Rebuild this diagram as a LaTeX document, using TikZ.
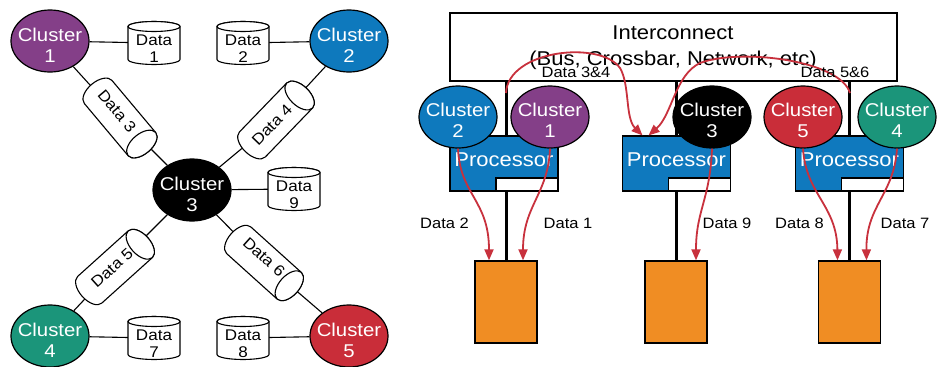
\documentclass[tikz,border=0pt]{standalone}
\usepackage{fontspec}
\setmainfont{Liberation Sans}[FakeStretch=1.1]
\usetikzlibrary{arrows.meta,shapes.geometric}
\definecolor{cpurple}{HTML}{843F88}
\definecolor{cblue}{HTML}{0E79BD}
\definecolor{cteal}{HTML}{1B957A}
\definecolor{cred}{HTML}{C92D39}
\definecolor{procblue}{HTML}{0F79BE}
\definecolor{memorange}{HTML}{F08D23}
\definecolor{flowred}{HTML}{C8313D}
% cylinder outline drawn in a local frame: axis along x, front face at +x
% #1 = node name, #2 = rotation, #3 = half distance between end centres, #4 = radius, #5 = end ellipse half width
\newcommand{\drawcyl}[5]{%
  \begin{scope}[shift={(#1.center)}, rotate=#2]
    \filldraw[cylline] (-#3,-#4) -- (#3,-#4)
      arc[start angle=-90, end angle=90, x radius=#5, y radius=#4]
      -- (-#3,#4)
      arc[start angle=90, end angle=270, x radius=#5, y radius=#4] -- cycle;
    \draw[cylline] (#3,0) ellipse [x radius=#5, y radius=#4];
  \end{scope}}
\begin{document}
\begin{tikzpicture}[x=1pt,y=-1pt,
  clus/.style={ellipse, draw=black, line width=1.2pt, minimum width=78pt, minimum height=62pt, inner sep=0pt},
  ctext/.style={text=white, font=\fontsize{18.5}{21}\selectfont, align=center, inner sep=0pt},
  cylline/.style={draw=black, fill=white, line width=1.1pt},
  upcyl/.style={rectangle, inner sep=0pt, minimum width=52pt, minimum height=43pt},
  tiltcyl/.style={rectangle, inner sep=0pt, minimum width=88pt, minimum height=36pt},
  dtext/.style={font=\fontsize{15.5}{17}\selectfont, align=center, inner sep=0pt},
  link/.style={draw=black, line width=1.1pt},
  bus/.style={draw=black, line width=3pt},
  icbox/.style={draw=black, fill=white, line width=1.2pt, minimum width=447pt, minimum height=68pt, inner sep=0pt},
  itext/.style={font=\fontsize{20}{24}\selectfont, inner sep=0pt},
  proc/.style={draw=black, fill=procblue, line width=1.1pt, minimum width=108pt, minimum height=55pt, inner sep=0pt},
  procslot/.style={draw=black, fill=white, line width=1.1pt, minimum width=62pt, minimum height=13pt, inner sep=0pt, anchor=south east},
  ptext/.style={text=white, font=\fontsize{20}{24}\selectfont, inner sep=0pt},
  mem/.style={draw=black, fill=memorange, line width=1.3pt, minimum width=62pt, minimum height=82pt, inner sep=0pt},
  flow/.style={draw=flowred, line width=1.8pt, -{Triangle[length=11pt,width=9pt]}},
  ltext/.style={font=\fontsize{15}{18}\selectfont, inner sep=0pt},
]
\fill[white] (0,0) rectangle (943,367);
\useasboundingbox (0,0) rectangle (943,367);

% ---------------- left: distributed clusters ----------------
\node[clus, fill=cpurple] (c1) at (50,41) {};
\node[clus, fill=cblue] (c2) at (349,41) {};
\node[clus, fill=black] (c3) at (192,190) {};
\node[clus, fill=cteal] (c4) at (50,336) {};
\node[clus, fill=cred] (c5) at (349,336) {};

\node[upcyl] (d1) at (154,43) {};
\node[upcyl] (d2) at (243,43) {};
\node[upcyl] (d9) at (294,189) {};
\node[upcyl] (d7) at (154,338) {};
\node[upcyl] (d8) at (243,338) {};
\node[tiltcyl, rotate=-50] (d3) at (120,118) {};
\node[tiltcyl, rotate=46] (d4) at (276,120) {};
\node[tiltcyl, rotate=42] (d5) at (115,267) {};
\node[tiltcyl, rotate=-42] (d6) at (264,263) {};

\draw[link] (c1) -- (d1);
\draw[link] (c2) -- (d2);
\draw[link] (c3) -- (d9);
\draw[link] (c4) -- (d7);
\draw[link] (c5) -- (d8);
\draw[link] (c1) -- (d3);
\draw[link] (d3) -- (c3);
\draw[link] (c2) -- (d4);
\draw[link] (d4) -- (c3);
\draw[link] (c3) -- (d5);
\draw[link] (d5) -- (c4);
\draw[link] (c3) -- (d6);
\draw[link] (d6) -- (c5);

\drawcyl{d1}{90}{16.5}{26}{5}
\drawcyl{d2}{90}{16.5}{26}{5}
\drawcyl{d9}{90}{16.5}{26}{5}
\drawcyl{d7}{90}{16.5}{26}{5}
\drawcyl{d8}{90}{16.5}{26}{5}
\drawcyl{d3}{-50}{34}{18}{10}
\drawcyl{d4}{46}{34}{18}{10}
\drawcyl{d5}{42}{34}{18}{10}
\drawcyl{d6}{-42}{34}{18}{10}

\node[ctext] (c1t) at ([yshift=-4pt]c1.center) {Cluster\\1};
\node[ctext] (c2t) at ([yshift=-4pt]c2.center) {Cluster\\2};
\node[ctext] (c3t) at ([yshift=-4pt]c3.center) {Cluster\\3};
\node[ctext] (c4t) at ([yshift=-4pt]c4.center) {Cluster\\4};
\node[ctext] (c5t) at ([yshift=-4pt]c5.center) {Cluster\\5};

\node[dtext] (d1t) at ([yshift=-6pt]d1.center) {Data\\1};
\node[dtext] (d2t) at ([yshift=-6pt]d2.center) {Data\\2};
\node[dtext] (d9t) at ([yshift=-6pt]d9.center) {Data\\9};
\node[dtext] (d7t) at ([yshift=-6pt]d7.center) {Data\\7};
\node[dtext] (d8t) at ([yshift=-6pt]d8.center) {Data\\8};
\node[dtext, rotate=-50] (d3t) at (117,111) {Data 3};
\node[dtext, rotate=46] (d4t) at (272,125) {Data 4};
\node[dtext, rotate=42] (d5t) at (112,268) {Data 5};
\node[dtext, rotate=-42] (d6t) at (264,257) {Data 6};

% ---------------- right: shared interconnect ----------------
\node[icbox] (ic) at (673.5,47) {};
\node[itext] (ict1) at (673,33) {Interconnect};
\node[itext] (ict2) at (673,60) {(Bus, Crossbar, Network, etc)};

\node[mem] (m1) at (506,302) {};
\node[mem] (m2) at (676,302) {};
\node[mem] (m3) at (849.5,302) {};

\draw[bus] (m1.north) -- (m1.north |- ic.south);
\draw[bus] (m2.north) -- (m2.north |- ic.south);
\draw[bus] (m3.north) -- (m3.north |- ic.south);

\node[proc] (p1) at (504,163.5) {};
\node[proc] (p2) at (676.5,163.5) {};
\node[proc] (p3) at (849.5,163.5) {};
\node[procslot] (p1s) at (p1.south east) {};
\node[procslot] (p2s) at (p2.south east) {};
\node[procslot] (p3s) at (p3.south east) {};
\node[ptext] (p1t) at (504,160) {Processor};
\node[ptext] (p2t) at (676.5,160) {Processor};
\node[ptext] (p3t) at (849.5,160) {Processor};

\node[clus, fill=cblue] (r2) at (458,117) {};
\node[clus, fill=cpurple] (r1) at (550,117) {};
\node[clus, fill=black] (r3) at (712,117) {};
\node[clus, fill=cred] (r5) at (803,117) {};
\node[clus, fill=cteal] (r4) at (897,117) {};
\node[ctext] (r2t) at ([yshift=-3pt]r2.center) {Cluster\\2};
\node[ctext] (r1t) at ([yshift=-3pt]r1.center) {Cluster\\1};
\node[ctext] (r3t) at ([yshift=-3pt]r3.center) {Cluster\\3};
\node[ctext] (r5t) at ([yshift=-3pt]r5.center) {Cluster\\5};
\node[ctext] (r4t) at ([yshift=-3pt]r4.center) {Cluster\\4};

\coordinate (s34) at (506,93);
\coordinate (s56) at (850,93);
\draw[flow] (s34) .. controls (508,50) and (600,40) .. (620,68)
  .. controls (630,85) and (625,118) .. ([xshift=-34pt]p2.north);
\draw[flow] (s56) .. controls (840,60) and (740,48) .. (700,63)
  .. controls (675,75) and (672,115) .. ([xshift=-28pt]p2.north);

\draw[flow] (r2.south) .. controls (460,195) and (489,200) .. ([xshift=-17pt]m1.north);
\draw[flow] (r1.south) .. controls (548,195) and (523,205) .. ([xshift=17pt]m1.north);
\draw[flow] (r3.south) .. controls (710,200) and (696,210) .. ([xshift=20pt]m2.north);
\draw[flow] (r5.south) .. controls (806,195) and (837,205) .. ([xshift=-12pt]m3.north);
\draw[flow] (r4.south) .. controls (894,195) and (866,205) .. ([xshift=17pt]m3.north);

\node[ltext] (l34) at (576,72) {Data 3\&4};
\node[ltext] (l56) at (835,72) {Data 5\&6};
\node[ltext] (l2) at (444.5,223.5) {Data 2};
\node[ltext] (l1) at (568,223.5) {Data 1};
\node[ltext] (l9) at (727,223.5) {Data 9};
\node[ltext] (l8) at (799.5,223.5) {Data 8};
\node[ltext] (l7) at (905,223.5) {Data 7};
\end{tikzpicture}
\end{document}
